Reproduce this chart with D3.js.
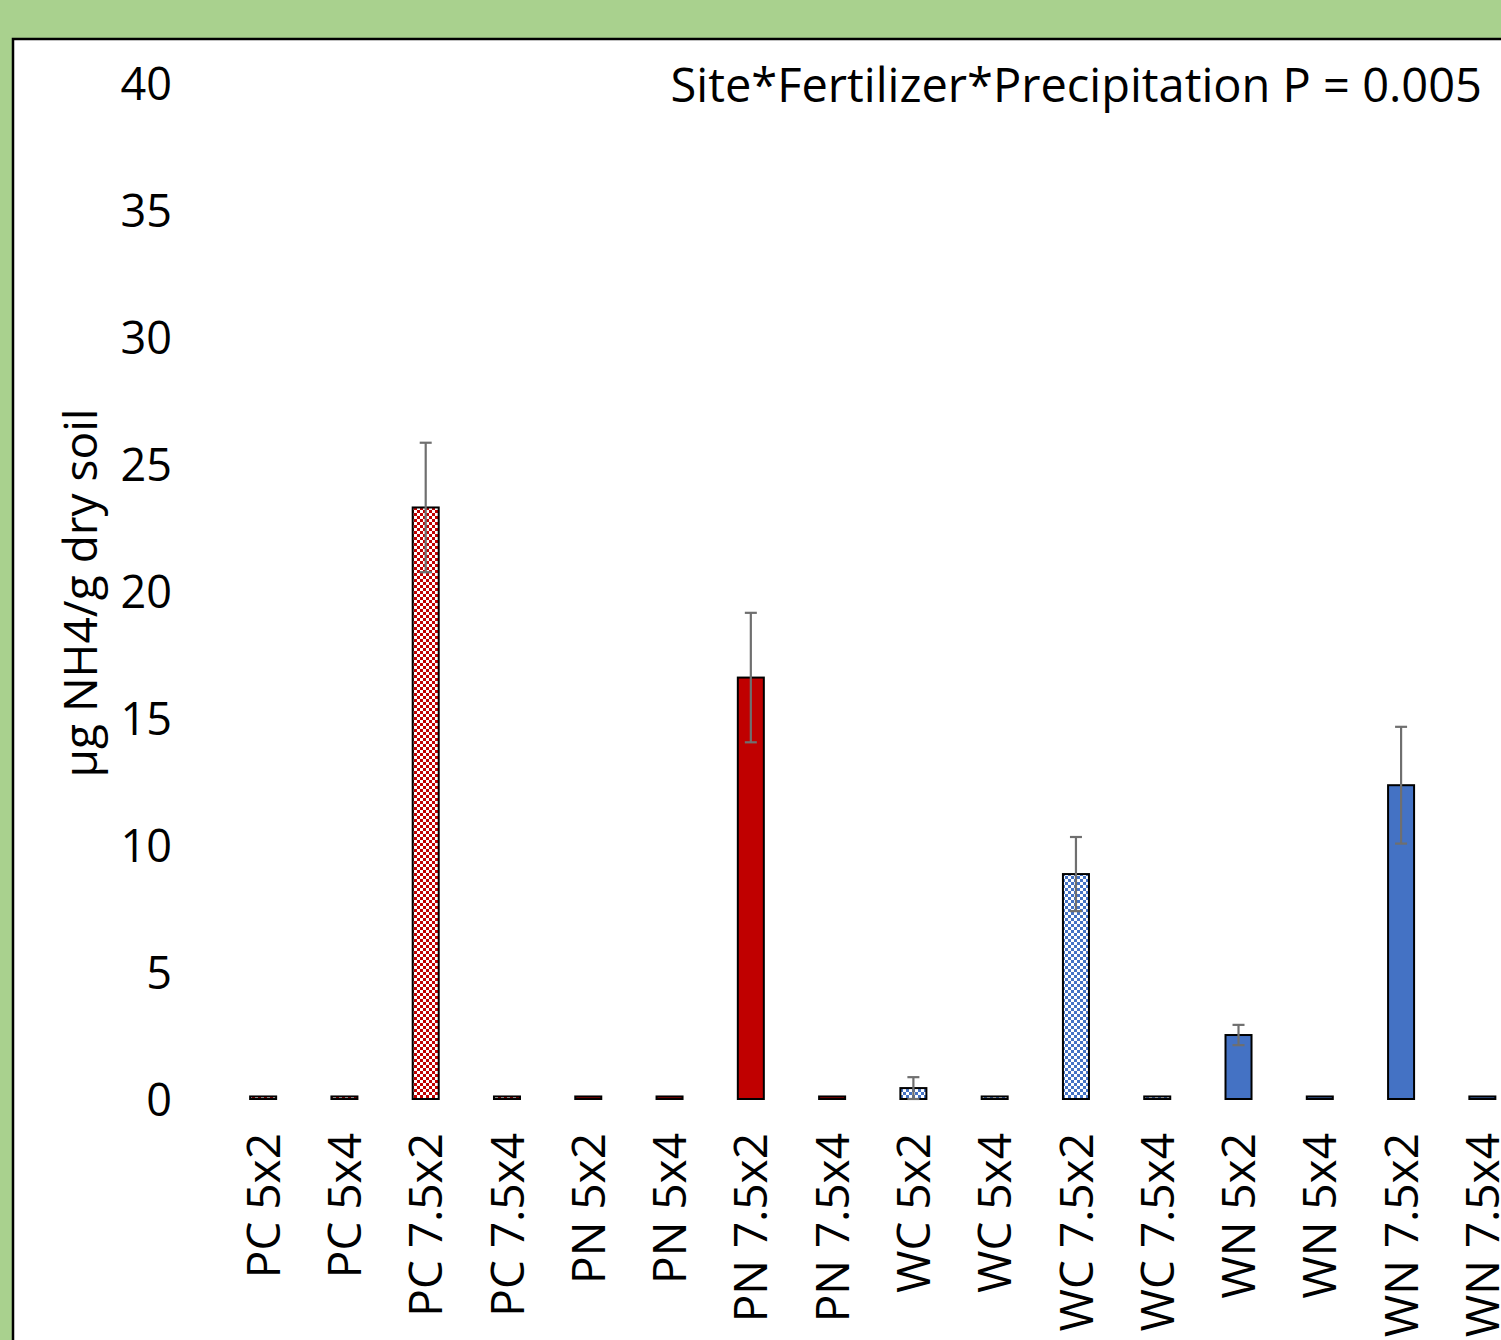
<!DOCTYPE html>
<html>
<head>
<meta charset="utf-8">
<script src="https://cdn.jsdelivr.net/npm/d3@7"></script>
<style>
  html, body { margin: 0; padding: 0; background: #A9D18E; }
  svg { display: block; }
  text { font-family: "Open Sans", "Noto Sans", sans-serif; fill: #000; }
</style>
</head>
<body>
<svg id="chart" width="1501" height="1340"></svg>
<script>
// Treatment groups and means (µg NH4 per g dry soil) with standard errors
const categories = ["PC 5x2", "PC 5x4", "PC 7.5x2", "PC 7.5x4",
                    "PN 5x2", "PN 5x4", "PN 7.5x2", "PN 7.5x4",
                    "WC 5x2", "WC 5x4", "WC 7.5x2", "WC 7.5x4",
                    "WN 5x2", "WN 5x4", "WN 7.5x2", "WN 7.5x4"];
const means  = [0.1, 0.1, 23.3, 0.1, 0.1, 0.1, 16.6, 0.1,
                0.43, 0.1, 8.86, 0.1, 2.52, 0.1, 12.36, 0.1];
const errors = [0, 0, 2.55, 0, 0, 0, 2.55, 0,
                0.43, 0, 1.46, 0, 0.4, 0, 2.3, 0];
// Fill style per group: site P/W, fertilizer C (checker) / N (solid)
const fills = ["pc", "pc", "pc", "pc", "pn", "pn", "pn", "pn",
               "wc", "wc", "wc", "wc", "wn", "wn", "wn", "wn"];
const yTicks = [0, 5, 10, 15, 20, 25, 30, 35, 40];
const titleText = "Site*Fertilizer*Precipitation P = 0.005";
const yLabel = "µg NH4/g dry soil";

const svg = d3.select("#chart");
const W = 1501, H = 1340;

// white chart area with black frame
svg.append("rect")
  .attr("x", 13).attr("y", 39)
  .attr("width", W + 20).attr("height", H + 20)
  .attr("fill", "#fff").attr("stroke", "#000").attr("stroke-width", 2.5);

const defs = svg.append("defs");
function checker(id, color) {
  const p = defs.append("pattern").attr("id", id)
    .attr("patternUnits", "userSpaceOnUse").attr("width", 6).attr("height", 6);
  p.append("rect").attr("width", 6).attr("height", 6).attr("fill", color);
  p.append("rect").attr("x", 0).attr("y", 0).attr("width", 3).attr("height", 3).attr("fill", "#fff");
  p.append("rect").attr("x", 3).attr("y", 3).attr("width", 3).attr("height", 3).attr("fill", "#fff");
}
checker("chkRed", "#C00000");
checker("chkBlue", "#4472C4");
const fillMap = { pc: "url(#chkRed)", pn: "#C00000", wc: "url(#chkBlue)", wn: "#4472C4" };

const x = d3.scaleBand().domain(categories).range([222.5, 1523]).paddingInner(0.68).paddingOuter(0.34);
const y = d3.scaleLinear().domain([0, 40]).range([1099, 83.5]);

// y tick labels (no axis line)
const yAxis = d3.axisLeft(y).tickValues(yTicks).tickSize(0).tickPadding(0);
const yg = svg.append("g").attr("transform", "translate(172,0)").call(yAxis);
yg.select(".domain").remove();
yg.selectAll("text").style("font-size", "45px").attr("dy", "0.36em");

// x category labels, rotated
const xAxis = d3.axisBottom(x).tickSize(0).tickPadding(0);
const xg = svg.append("g").attr("transform", "translate(0,1133)").call(xAxis);
xg.select(".domain").remove();
xg.selectAll("text")
  .style("font-size", "46px")
  .attr("text-anchor", "end")
  .attr("transform", "rotate(-90)")
  .attr("x", 0).attr("y", 0).attr("dy", "0.36em");

// bars
svg.append("g").selectAll("rect").data(categories).join("rect")
  .attr("x", d => x(d))
  .attr("width", x.bandwidth())
  .attr("y", (d, i) => y(means[i]))
  .attr("height", (d, i) => y(0) - y(means[i]))
  .attr("fill", (d, i) => fillMap[fills[i]])
  .attr("stroke", "#000").attr("stroke-width", 2);

// error bars
const eb = svg.append("g").attr("stroke", "#6f6f6f").attr("stroke-width", 2.2);
categories.forEach((c, i) => {
  if (!errors[i]) return;
  const cx = x(c) + x.bandwidth() / 2;
  const y1 = y(means[i] + errors[i]), y0 = y(means[i] - errors[i]);
  eb.append("line").attr("x1", cx).attr("x2", cx).attr("y1", y1).attr("y2", y0);
  eb.append("line").attr("x1", cx - 6).attr("x2", cx + 6).attr("y1", y1).attr("y2", y1);
  eb.append("line").attr("x1", cx - 6).attr("x2", cx + 6).attr("y1", y0).attr("y2", y0);
});

// y axis title
svg.append("text")
  .attr("transform", "translate(80,593) rotate(-90)")
  .attr("text-anchor", "middle").attr("dy", "0.36em")
  .style("font-size", "46px")
  .text(yLabel);

// significance annotation
svg.append("text")
  .attr("x", 1482).attr("y", 85).attr("dy", "0.36em")
  .attr("text-anchor", "end")
  .style("font-size", "47px")
  .text(titleText);
</script>
</body>
</html>
